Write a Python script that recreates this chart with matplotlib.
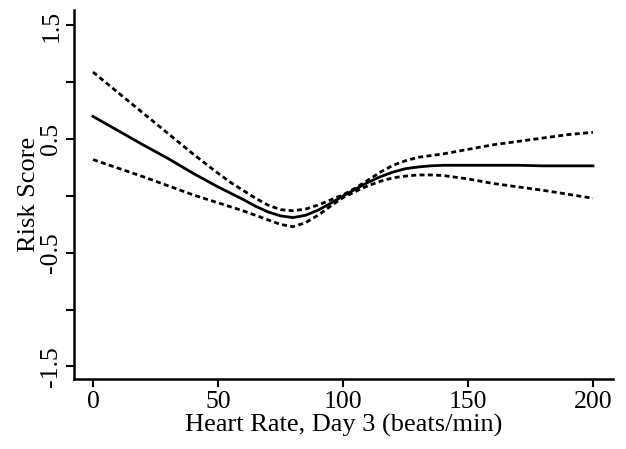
import matplotlib
matplotlib.use("Agg")
import matplotlib.pyplot as plt
import numpy as np

plt.rcParams['font.family'] = ['Liberation Serif', 'DejaVu Serif']

# heart rate grid (beats/min)
hr = [0, 10, 20, 30, 40, 50, 55, 60, 65, 70, 75, 80, 85, 90, 95, 100,
      105, 110, 115, 120, 125, 130, 135, 140, 150, 160, 170, 180, 190, 200]

risk = [0.70, 0.575, 0.45, 0.33, 0.20, 0.08, 0.025, -0.03, -0.09, -0.14, -0.175, -0.19,
        -0.17, -0.125, -0.065, 0.0, 0.06, 0.12, 0.17, 0.21, 0.24, 0.255, 0.265, 0.27,
        0.27, 0.27, 0.27, 0.265, 0.265, 0.265]

upper = [1.09, 0.91, 0.73, 0.55, 0.37, 0.20, 0.12, 0.05, -0.02, -0.08, -0.12, -0.13,
         -0.115, -0.08, -0.035, 0.01, 0.07, 0.14, 0.21, 0.27, 0.31, 0.34, 0.355, 0.37,
         0.41, 0.45, 0.48, 0.51, 0.54, 0.56]

lower = [0.32, 0.245, 0.17, 0.09, 0.01, -0.06, -0.095, -0.13, -0.17, -0.21, -0.25, -0.27,
         -0.235, -0.17, -0.09, -0.015, 0.04, 0.09, 0.13, 0.16, 0.175, 0.185, 0.185, 0.18,
         0.15, 0.11, 0.08, 0.05, 0.015, -0.02]

yticks = [-1.5, -1.0, -0.5, 0.0, 0.5, 1.0, 1.5]
ylabels = ['-1.5', '', '-0.5', '', '0.5', '', '1.5']
xticks = [0, 50, 100, 150, 200]

fig = plt.figure(figsize=(6.26, 4.49), dpi=100)
ax = fig.add_axes([74/626, 1-379/449, (613-74)/626, (379-10)/449])

ax.plot(hr, upper, color='black', lw=2.0, dashes=(1.8, 1.2))
ax.plot(hr, lower, color='black', lw=2.0, dashes=(1.8, 1.2))
ax.plot(hr, risk, color='black', lw=2.0)

ax.set_xlim(-7.6, 208)
ax.set_ylim(-1.61, 1.636)
ax.set_xticks(xticks)
ax.set_yticks(yticks)
ax.set_yticklabels(ylabels, rotation=90, va='center')

for s in ['top', 'right']:
    ax.spines[s].set_visible(False)
for s in ['left', 'bottom']:
    ax.spines[s].set_linewidth(1.8)

ax.tick_params(direction='out', length=5.5, width=1.5, labelsize=18.5, pad=3)
ax.set_xlabel('Heart Rate, Day 3 (beats/min)', fontsize=19, labelpad=1)
ax.set_ylabel('Risk Score', fontsize=19, labelpad=0)

plt.savefig('out.png', dpi=100)
